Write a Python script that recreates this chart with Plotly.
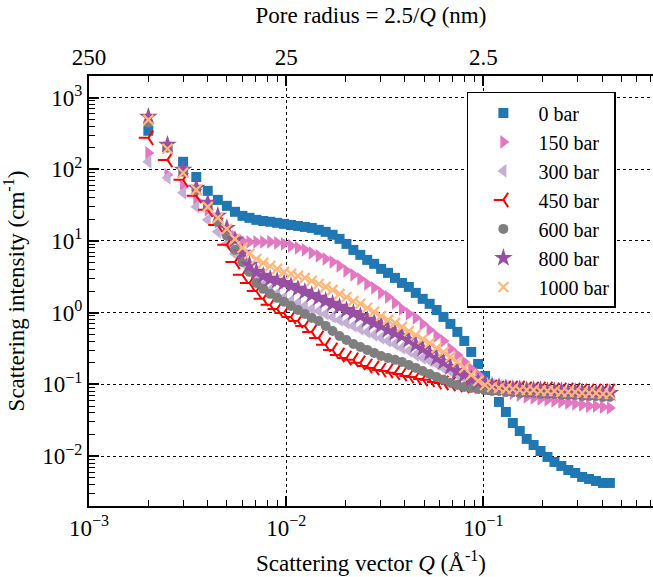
import plotly.graph_objects as go

# Scattering vector Q (1/Angstrom)
q = [0.0020, 0.0025, 0.0030, 0.0035, 0.0040, 0.0045, 0.0050, 0.0055, 0.0060,
     0.00651, 0.00706, 0.00765, 0.00830, 0.00900, 0.00975, 0.01058, 0.01147, 0.01243, 0.01348,
     0.01462, 0.01585, 0.01719, 0.01864, 0.02021, 0.02191, 0.02376, 0.02576, 0.02793, 0.03029,
     0.03284, 0.03561, 0.03861, 0.04187, 0.04540, 0.04922, 0.05337, 0.05787, 0.06275, 0.06804,
     0.07378, 0.08000, 0.08674, 0.09406, 0.10199, 0.11059, 0.11991, 0.13002, 0.14098, 0.15287,
     0.16576, 0.17973, 0.19489, 0.21132, 0.22913, 0.24845, 0.26940, 0.29212, 0.31675, 0.34345,
     0.37241, 0.40381, 0.43786]

i_0 = [344, 205, 127, 78, 50, 37.4, 30.9, 25.5, 22.4, 21.0, 19.7, 19.0, 18.5, 17.9, 17.3, 16.7,
       16.2, 15.7, 15.2, 14.3, 13.4, 12.2, 10.7, 9.1, 7.5, 6.4, 5.45, 4.8, 4.08, 3.59, 3.06, 2.6,
       2.29, 1.89, 1.56, 1.33, 1.09, 0.873, 0.698, 0.54, 0.404, 0.284, 0.193, 0.131, 0.0838, 0.057,
       0.0413, 0.029, 0.0224, 0.0174, 0.0143, 0.0118, 0.00975, 0.0083, 0.0073, 0.00641, 0.00583,
       0.00513, 0.00481, 0.00451, 0.00423, 0.00423]
i_150 = [169, 83.5, 56.9, 37.4, 27.2, 18.5, 13.4, 11.4, 10.0, 9.71, 9.71, 9.71, 9.71, 9.41, 9.12,
         8.55, 8.02, 7.52, 6.82, 6.19, 5.62, 5.11, 4.49, 3.83, 3.37, 2.96, 2.52, 2.22, 1.89, 1.66,
         1.37, 1.13, 0.962, 0.846, 0.698, 0.575, 0.474, 0.404, 0.313, 0.258, 0.206, 0.164, 0.136,
         0.112, 0.0984, 0.0893, 0.0811, 0.076, 0.0713, 0.067, 0.0648, 0.0628, 0.0608, 0.0589,
         0.057, 0.0552, 0.0535, 0.0518, 0.0501, 0.0501, 0.0485, 0.047]
i_300 = [127, 75.9, 46.9, 29.9, 19.7, 13.4, 9.12, 6.61, 4.95, 3.83, 3.06, 2.44, 2.08, 1.83, 1.61,
         1.46, 1.37, 1.24, 1.13, 1.06, 0.962, 0.873, 0.794, 0.721, 0.655, 0.594, 0.540, 0.490,
         0.445, 0.404, 0.367, 0.323, 0.293, 0.258, 0.234, 0.213, 0.193, 0.170, 0.154, 0.136, 0.123,
         0.112, 0.105, 0.1016, 0.0984, 0.0953, 0.0923, 0.0893, 0.0893, 0.0865, 0.0865, 0.0838,
         0.0838, 0.0811, 0.0811, 0.0785, 0.0785, 0.0785, 0.076, 0.076, 0.076, 0.0736]
i_450 = [274, 135, 71.1, 42.6, 27.2, 16.7, 8.83, 5.11, 3.37, 2.60, 2.01, 1.56, 1.29, 1.13, 0.993,
         0.873, 0.769, 0.655, 0.540, 0.445, 0.356, 0.303, 0.258, 0.234, 0.220, 0.200, 0.181, 0.170,
         0.159, 0.154, 0.145, 0.140, 0.131, 0.127, 0.119, 0.116, 0.108, 0.105, 0.1016, 0.0984,
         0.0953, 0.0953, 0.0923, 0.0923, 0.0923, 0.0893, 0.0893, 0.0893, 0.0893, 0.0865, 0.0865,
         0.0865, 0.0865, 0.0838, 0.0838, 0.0838, 0.0838, 0.0811, 0.0811, 0.0811, 0.0811, 0.0811]
i_600 = [444, 199, 92, 51.6, 30.9, 18.5, 11.8, 7.52, 5.11, 3.71, 2.60, 2.15, 1.83, 1.61, 1.42,
         1.24, 1.09, 0.962, 0.846, 0.769, 0.655, 0.557, 0.474, 0.417, 0.367, 0.333, 0.303, 0.275,
         0.249, 0.234, 0.220, 0.206, 0.187, 0.170, 0.154, 0.140, 0.127, 0.116, 0.105, 0.0984,
         0.0923, 0.0893, 0.0865, 0.0838, 0.0811, 0.0811, 0.0785, 0.0785, 0.076, 0.076, 0.076,
         0.0736, 0.0736, 0.0736, 0.0713, 0.0713, 0.0713, 0.069, 0.069, 0.069, 0.0668, 0.0668]
i_800 = [538, 219, 98, 55.1, 34.0, 22.4, 15.2, 10.4, 6.82, 4.64, 3.71, 3.26, 2.96, 2.78, 2.60,
         2.37, 2.15, 1.95, 1.77, 1.61, 1.46, 1.33, 1.21, 1.09, 0.993, 0.901, 0.794, 0.721, 0.655,
         0.575, 0.523, 0.474, 0.417, 0.356, 0.313, 0.275, 0.234, 0.206, 0.175, 0.154, 0.136, 0.119,
         0.108, 0.1016, 0.0953, 0.0923, 0.0893, 0.0865, 0.0865, 0.0838, 0.0838, 0.0838, 0.0811,
         0.0811, 0.0811, 0.0785, 0.0785, 0.0785, 0.076, 0.076, 0.076, 0.076]
i_1000 = [489, 193, 89.1, 51.6, 29.9, 21.0, 14.7, 10.7, 8.02, 6.61, 5.62, 4.95, 4.49, 4.08, 3.71,
          3.48, 3.26, 3.06, 2.78, 2.52, 2.29, 2.08, 1.83, 1.66, 1.46, 1.33, 1.17, 1.03, 0.901,
          0.794, 0.721, 0.634, 0.557, 0.490, 0.431, 0.379, 0.323, 0.284, 0.242, 0.206, 0.170, 0.136,
          0.112, 0.0984, 0.0923, 0.0893, 0.0865, 0.0865, 0.0838, 0.0838, 0.0838, 0.0811, 0.0811,
          0.0811, 0.0785, 0.0785, 0.0785, 0.076, 0.076, 0.076, 0.0736, 0.0736]

labels = ["0 bar", "150 bar", "300 bar", "450 bar", "600 bar", "800 bar", "1000 bar"]

x_ticks = [0.001, 0.01, 0.1]
x_ticktext = ["10<sup>\u22123</sup>", "10<sup>\u22122</sup>", "10<sup>\u22121</sup>"]
top_ticktext = ["250", "25", "2.5"]
y_ticks = [0.01, 0.1, 1, 10, 100, 1000]
y_ticktext = ["10<sup>\u22122</sup>", "10<sup>\u22121</sup>", "10<sup>0</sup>",
              "10<sup>1</sup>", "10<sup>2</sup>", "10<sup>3</sup>"]

FONT = "Liberation Serif"

styles = [
    dict(symbol="square", size=10, color="#1f77b4"),
    dict(symbol="triangle-right", size=12, color="#e377c2"),
    dict(symbol="triangle-left", size=12, color="#c5b0d5"),
    dict(symbol="y-left", size=12, color="red", line=dict(color="red", width=2)),
    dict(symbol="circle", size=10, color="#7f7f7f"),
    dict(symbol="star", size=14, color="#984ea3"),
    dict(symbol="x-thin", size=10, color="#ffb87a", line=dict(color="#ffb87a", width=2.2)),
]
data = [i_0, i_150, i_300, i_450, i_600, i_800, i_1000]

fig = go.Figure()
for lab, y, st in zip(labels, data, styles):
    fig.add_trace(go.Scatter(x=q, y=y, mode="markers", name=lab, marker=st))

# invisible trace to activate the top axis
fig.add_trace(go.Scatter(x=q, y=i_0, xaxis="x2", mode="markers",
                         marker=dict(opacity=0), showlegend=False, hoverinfo="skip"))

xr = [-3, -0.14]


def axis_style():
    return dict(
        showline=True, linewidth=2, linecolor="black",
        ticks="inside", ticklen=10, tickwidth=1.5, tickcolor="black",
        minor=dict(ticks="inside", ticklen=6, tickwidth=1.3, tickcolor="black",
                   dtick="D1", showgrid=False),
        zeroline=False,
        tickfont=dict(family=FONT, size=23, color="black"),
    )


fig.update_layout(
    width=653, height=577,
    margin=dict(l=89, r=0, t=76, b=71),
    paper_bgcolor="white", plot_bgcolor="white",
    font=dict(family=FONT, color="black", size=20),
    xaxis=dict(type="log", range=xr, tickmode="array", tickvals=x_ticks, ticktext=x_ticktext,
               showgrid=True, gridcolor="black", gridwidth=1.3, griddash="dot",
               title=dict(text="Scattering vector <i>Q</i> (Å<sup>-1</sup>)",
                          font=dict(family=FONT, size=23, color="black")),
               **axis_style()),
    xaxis2=dict(type="log", range=xr, overlaying="x", side="top", anchor="y",
                tickmode="array", tickvals=x_ticks, ticktext=top_ticktext, showgrid=False,
                title=dict(text="Pore radius = 2.5/<i>Q</i> (nm)",
                           font=dict(family=FONT, size=23, color="black")),
                **axis_style()),
    yaxis=dict(type="log", range=[-2.695, 3.30], tickmode="array", tickvals=y_ticks,
               ticktext=y_ticktext,
               showgrid=True, gridcolor="black", gridwidth=1.3, griddash="dot",
               title=dict(text="Scattering intensity (cm<sup>-1</sup>)",
                          font=dict(family=FONT, size=23, color="black")),
               **axis_style()),
    legend=dict(x=0.670, y=0.963, xanchor="left", yanchor="top",
                bgcolor="white", bordercolor="black", borderwidth=1.5,
                font=dict(family=FONT, size=20, color="black"), itemwidth=60),
    showlegend=True,
)

fig.write_html("out.html")
